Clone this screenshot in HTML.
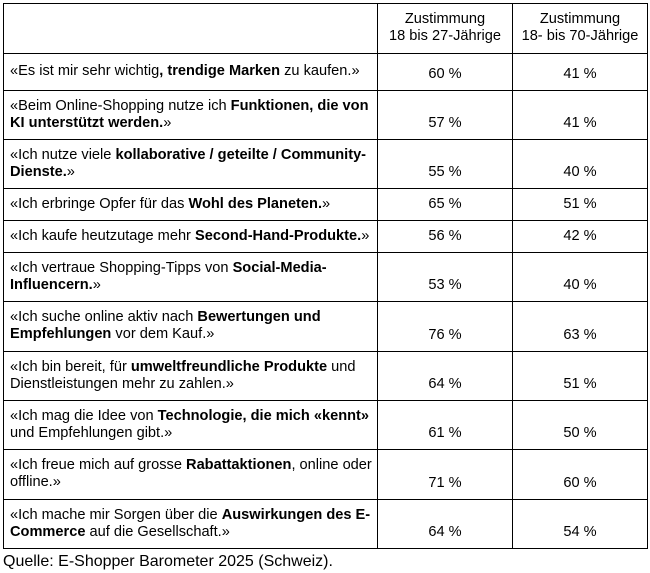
<!DOCTYPE html>
<html><head><meta charset="utf-8"><style>
body{margin:0;width:650px;height:573px;background:#fff;font-family:"Liberation Sans",Arial,sans-serif;font-size:14.6px;color:#000;position:relative;overflow:hidden}
table{position:absolute;left:3px;top:3px;border-collapse:collapse;width:644px;table-layout:fixed}
td{border:1px solid #000;padding:0 2px 1px 6px;line-height:17px;vertical-align:middle}
td.n{text-align:center;vertical-align:bottom;padding:0 0 7px 0}
.h td.n{padding-bottom:8px}
b{font-weight:bold}
.src{position:absolute;left:3px;top:553px;font-size:16px}
</style></head><body>
<table>
<colgroup><col style="width:374px"><col style="width:135px"><col style="width:135px"></colgroup>
<tr class="h" style="height:50px"><td></td><td class="n">Zustimmung<br>18 bis 27-Jährige</td><td class="n">Zustimmung<br>18- bis 70-Jährige</td></tr>
<tr style="height:37px"><td>«Es ist mir sehr wichtig<b>, trendige Marken</b> zu kaufen.»</td><td class="n">60 %</td><td class="n">41 %</td></tr>
<tr style="height:49px"><td>«Beim Online-Shopping nutze ich <b>Funktionen, die von<br>KI unterstützt werden.</b>»</td><td class="n">57 %</td><td class="n">41 %</td></tr>
<tr style="height:49px"><td>«Ich nutze viele <b>kollaborative / geteilte / Community-<br>Dienste.</b>»</td><td class="n">55 %</td><td class="n">40 %</td></tr>
<tr style="height:32px"><td>«Ich erbringe Opfer für das <b>Wohl des Planeten.</b>»</td><td class="n">65 %</td><td class="n">51 %</td></tr>
<tr style="height:32px"><td>«Ich kaufe heutzutage mehr <b>Second-Hand-Produkte.</b>»</td><td class="n">56 %</td><td class="n">42 %</td></tr>
<tr style="height:49px"><td>«Ich vertraue Shopping-Tipps von <b>Social-Media-<br>Influencern.</b>»</td><td class="n">53 %</td><td class="n">40 %</td></tr>
<tr style="height:50px"><td>«Ich suche online aktiv nach <b>Bewertungen und<br>Empfehlungen</b> vor dem Kauf.»</td><td class="n">76 %</td><td class="n">63 %</td></tr>
<tr style="height:49px"><td>«Ich bin bereit, für <b>umweltfreundliche Produkte</b> und<br>Dienstleistungen mehr zu zahlen.»</td><td class="n">64 %</td><td class="n">51 %</td></tr>
<tr style="height:49px"><td>«Ich mag die Idee von <b>Technologie, die mich «kennt»</b><br>und Empfehlungen gibt.»</td><td class="n">61 %</td><td class="n">50 %</td></tr>
<tr style="height:50px"><td>«Ich freue mich auf grosse <b>Rabattaktionen</b>, online oder<br>offline.»</td><td class="n">71 %</td><td class="n">60 %</td></tr>
<tr style="height:49px"><td>«Ich mache mir Sorgen über die <b>Auswirkungen des E-<br>Commerce</b> auf die Gesellschaft.»</td><td class="n">64 %</td><td class="n">54 %</td></tr>
</table>
<div class="src">Quelle: E-Shopper Barometer 2025 (Schweiz).</div>
</body></html>
